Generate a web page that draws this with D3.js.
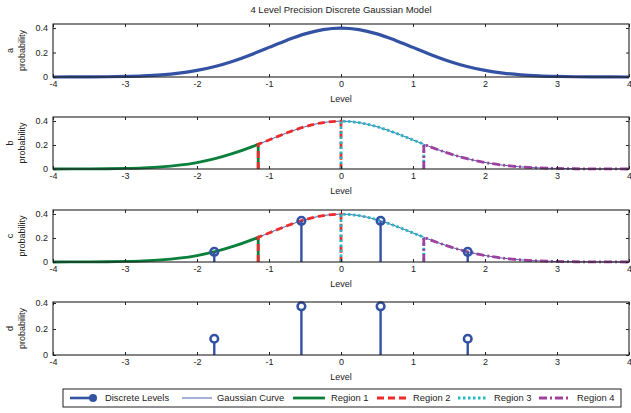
<!DOCTYPE html>
<html>
<head>
<meta charset="utf-8">
<script src="https://cdn.jsdelivr.net/npm/d3@7"></script>
<style>
  html, body { margin: 0; padding: 0; background: #fff; }
  svg { display: block; font-family: "Liberation Sans", Arial, Helvetica, sans-serif; }
</style>
</head>
<body>
<svg id="chart" width="631" height="413"></svg>
<script>
// Standard normal density sampled along the level axis (region edges included)
const curveX = [-4, -3.75, -3.5, -3.25, -3, -2.75, -2.5, -2.25, -2, -1.75, -1.5, -1.25, -1.15, -1,
  -0.75, -0.5, -0.25, 0, 0.25, 0.5, 0.75, 1, 1.15, 1.25, 1.5, 1.75, 2, 2.25, 2.5, 2.75, 3, 3.25,
  3.5, 3.75, 4];
const curveY = [0.0001, 0.0004, 0.0009, 0.0020, 0.0044, 0.0091, 0.0175, 0.0317, 0.0540, 0.0863,
  0.1295, 0.1826, 0.2059, 0.2420, 0.3011, 0.3521, 0.3867, 0.3989, 0.3867, 0.3521, 0.3011, 0.2420,
  0.2059, 0.1826, 0.1295, 0.0863, 0.0540, 0.0317, 0.0175, 0.0091, 0.0044, 0.0020, 0.0009, 0.0004,
  0.0001];

// Quantisation region edges and the four discrete levels
const regionEdges = [-4, -1.15, 0, 1.15, 4];
const levelX = [-1.76, -0.55, 0.55, 1.76];
const levelDensity = [0.0848, 0.3429, 0.3429, 0.0848];
const levelProb = [0.125, 0.375, 0.375, 0.125];

const xTicks = [-4, -3, -2, -1, 0, 1, 2, 3, 4];
const yTicks = [0, 0.2, 0.4];
const panelNames = ["a", "b", "c", "d"];
const regionNames = ["Region 1", "Region 2", "Region 3", "Region 4"];

const BLUE = "#3452a4";
const regionStyles = [
  { color: "#0b7f3c", dash: null },
  { color: "#ee2a2a", dash: "7,4" },
  { color: "#26b7c4", dash: "2.5,2.5" },
  { color: "#a0409e", dash: "8,3,2,3" }
];

const svg = d3.select("#chart");
const left = 53, right = 629;
const panels = [
  { top: 24, bottom: 77, yMax: 0.433 },
  { top: 117, bottom: 169, yMax: 0.433 },
  { top: 210, bottom: 262, yMax: 0.433 },
  { top: 302, bottom: 355, yMax: 0.408 }
];

const x = d3.scaleLinear().domain([-4, 4]).range([left, right]);
const points = curveX.map((v, i) => [v, curveY[i]]);
const densityAt = v => curveY[curveX.indexOf(v)];
const plainNumber = v => String(v);

svg.append("text")
  .attr("x", 341).attr("y", 13)
  .attr("text-anchor", "middle")
  .attr("font-size", 9.5)
  .attr("fill", "#222")
  .text("4 Level Precision Discrete Gaussian Model");

panels.forEach((p, idx) => {
  const y = d3.scaleLinear().domain([0, p.yMax]).range([p.bottom, p.top]);
  const g = svg.append("g");
  const clipId = "clip" + idx;
  svg.append("clipPath").attr("id", clipId)
    .append("rect").attr("x", left).attr("y", p.top - 2)
    .attr("width", right - left).attr("height", p.bottom - p.top + 4);
  const plot = g.append("g").attr("clip-path", `url(#${clipId})`);

  const line = d3.line().x(d => x(d[0])).y(d => y(d[1])).curve(d3.curveMonotoneX);

  // Gaussian curve: thick in panel a, thin reference in b and c
  if (idx === 0) {
    plot.append("path").attr("d", line(points))
      .attr("fill", "none").attr("stroke", BLUE).attr("stroke-width", 3.2);
  } else if (idx < 3) {
    plot.append("path").attr("d", line(points))
      .attr("fill", "none").attr("stroke", BLUE).attr("stroke-width", 0.9);
  }

  // Regions: vertical edges joined by the curve segment between them
  if (idx === 1 || idx === 2) {
    regionStyles.forEach((s, r) => {
      const a = regionEdges[r], b = regionEdges[r + 1];
      const seg = points.filter(d => d[0] >= a && d[0] <= b);
      let d = "";
      if (a > -4) d += `M${x(a)},${y(0)}L${x(a)},${y(densityAt(a))}`;
      const curvePath = line(seg);
      d += a > -4 ? "L" + curvePath.slice(1) : curvePath;
      if (b < 4) d += `L${x(b)},${y(0)}`;
      plot.append("path").attr("d", d)
        .attr("fill", "none").attr("stroke", s.color).attr("stroke-width", 2.8)
        .attr("stroke-dasharray", s.dash);
    });
  }

  // Stems for the discrete levels
  if (idx >= 2) {
    const vals = idx === 2 ? levelDensity : levelProb;
    levelX.forEach((lx, k) => {
      plot.append("line")
        .attr("x1", x(lx)).attr("x2", x(lx))
        .attr("y1", y(0)).attr("y2", y(vals[k]))
        .attr("stroke", BLUE).attr("stroke-width", 2.4);
      plot.append("circle")
        .attr("cx", x(lx)).attr("cy", y(vals[k])).attr("r", 3.8)
        .attr("fill", idx === 3 ? "#fff" : "none")
        .attr("stroke", BLUE).attr("stroke-width", 2.6);
    });
  }

  // Box and inward ticks on all four sides
  g.append("rect").attr("x", left).attr("y", p.top)
    .attr("width", right - left).attr("height", p.bottom - p.top)
    .attr("fill", "none").attr("stroke", "#222").attr("stroke-width", 1.1);

  const xb = g.append("g").attr("transform", `translate(0,${p.bottom})`)
    .call(d3.axisBottom(x).tickValues(xTicks).tickSizeInner(-3).tickSizeOuter(0).tickPadding(5).tickFormat(plainNumber));
  const xt = g.append("g").attr("transform", `translate(0,${p.top})`)
    .call(d3.axisTop(x).tickValues(xTicks).tickSizeInner(-3).tickSizeOuter(0).tickFormat(""));
  const yl = g.append("g").attr("transform", `translate(${left},0)`)
    .call(d3.axisLeft(y).tickValues(yTicks).tickSizeInner(-3).tickSizeOuter(0).tickPadding(5)
      .tickFormat(v => v === 0 ? "0" : v.toFixed(1)));
  const yr = g.append("g").attr("transform", `translate(${right},0)`)
    .call(d3.axisRight(y).tickValues(yTicks).tickSizeInner(-3).tickSizeOuter(0).tickFormat(""));
  [xb, xt, yl, yr].forEach(ax => {
    ax.select(".domain").remove();
    ax.selectAll("line").attr("stroke", "#222");
    ax.selectAll("text").attr("font-size", 9).attr("fill", "#222")
      .attr("font-family", "'Liberation Sans', Arial, sans-serif");
  });
  xb.selectAll("text").attr("dy", "0.55em");

  g.append("text")
    .attr("x", 341).attr("y", p.bottom + 25)
    .attr("text-anchor", "middle").attr("font-size", 9).attr("fill", "#222")
    .text("Level");

  const cy = (p.top + p.bottom) / 2;
  g.append("text")
    .attr("transform", `translate(13,${cy}) rotate(-90)`)
    .attr("text-anchor", "middle").attr("font-size", 9).attr("fill", "#222")
    .text(panelNames[idx]);
  g.append("text")
    .attr("transform", `translate(25,${cy}) rotate(-90)`)
    .attr("text-anchor", "middle").attr("font-size", 9).attr("fill", "#222")
    .text("probability");
});

// Legend
const leg = svg.append("g");
leg.append("rect").attr("x", 63).attr("y", 389).attr("width", 558).attr("height", 18)
  .attr("fill", "#fff").attr("stroke", "#222").attr("stroke-width", 1);
const ly = 398;
const legendItems = [
  { label: "Discrete Levels", x1: 70, x2: 94, text: 105 },
  { label: "Gaussian Curve", x1: 182, x2: 212, text: 217 },
  { label: regionNames[0], x1: 293, x2: 325, text: 331, style: regionStyles[0] },
  { label: regionNames[1], x1: 377, x2: 408, text: 413, style: regionStyles[1] },
  { label: regionNames[2], x1: 458, x2: 488, text: 494, style: regionStyles[2] },
  { label: regionNames[3], x1: 539, x2: 569, text: 577, style: regionStyles[3] }
];
legendItems.forEach((it, i) => {
  const ln = leg.append("line").attr("x1", it.x1).attr("x2", it.x2).attr("y1", ly).attr("y2", ly);
  if (i === 0) {
    ln.attr("stroke", BLUE).attr("stroke-width", 2.6);
    leg.append("circle").attr("cx", it.x2 - 1).attr("cy", ly).attr("r", 4).attr("fill", BLUE);
  } else if (i === 1) {
    ln.attr("stroke", BLUE).attr("stroke-width", 0.9);
  } else {
    ln.attr("stroke", it.style.color).attr("stroke-width", 2.8).attr("stroke-dasharray", it.style.dash);
  }
  leg.append("text").attr("x", it.text).attr("y", ly).attr("dy", "0.35em")
    .attr("font-size", 9.4).attr("fill", "#222").text(it.label);
});
</script>
</body>
</html>
